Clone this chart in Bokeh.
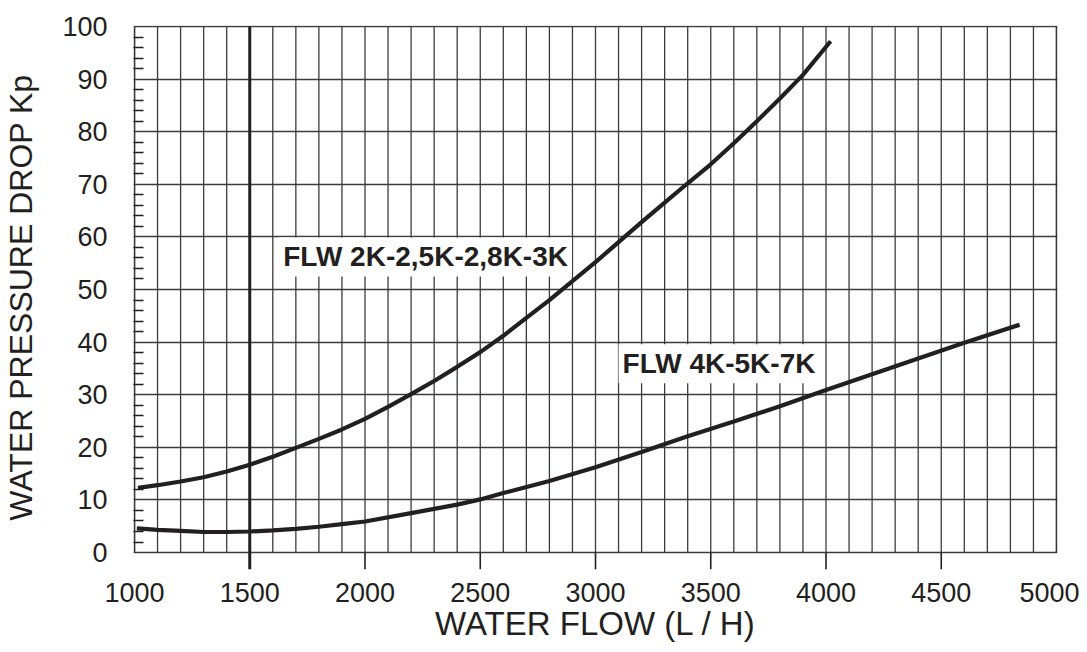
from bokeh.plotting import figure
from bokeh.models import LinearAxis, FixedTicker, Label, Range1d
from bokeh.embed import file_html
from bokeh.resources import INLINE

# ---------------- data ----------------
flow_a = [1015, 1100, 1200, 1300, 1400, 1500, 1600, 1700, 1800, 1900, 2000,
          2100, 2200, 2300, 2400, 2500, 2600, 2700, 2800, 2900, 3000, 3100,
          3200, 3300, 3400, 3500, 3600, 3700, 3800, 3900, 4020]
drop_a = [12.3, 12.8, 13.5, 14.3, 15.4, 16.7, 18.2, 19.9, 21.6, 23.4, 25.4,
          27.7, 30.1, 32.6, 35.3, 38.1, 41.2, 44.6, 48.0, 51.6, 55.2, 59.0,
          62.8, 66.5, 70.2, 73.8, 77.8, 82.0, 86.3, 90.8, 97.2]

flow_b = [1010, 1100, 1200, 1300, 1400, 1500, 1600, 1700, 1800, 1900, 2000,
          2200, 2400, 2500, 2600, 2800, 3000, 3200, 3400, 3600, 3800, 4000,
          4200, 4400, 4600, 4840]
drop_b = [4.6, 4.3, 4.1, 3.9, 3.9, 4.0, 4.2, 4.5, 4.9, 5.4, 5.9,
          7.5, 9.1, 10.1, 11.3, 13.6, 16.2, 19.1, 22.1, 24.9, 27.8, 30.9,
          33.9, 36.9, 39.9, 43.3]

label_a = "FLW 2K-2,5K-2,8K-3K"
label_b = "FLW 4K-5K-7K"

x_ticks = [1000, 1500, 2000, 2500, 3000, 3500, 4000, 4500, 5000]
x_marks = [2000, 2500, 3000, 3500, 4000, 4500]
heavy_x = 1500
y_ticks = [0, 10, 20, 30, 40, 50, 60, 70, 80, 90, 100]
y_minor = [v for v in range(2, 100, 2) if v % 10]
x_grid = list(range(1100, 5000, 100))
x_min, x_max, y_min, y_max = 1000, 5000, 0, 100

x_title = "WATER FLOW (L / H)"
y_title = "WATER PRESSURE DROP Kp"

# ---------------- styles / geometry ----------------
INK = "#231f20"
GRID = "#3c3c3c"
FONT = "Liberation Sans"
W, H = 1079, 644
PLOT_L, PLOT_T, PLOT_R, PLOT_B = 131, 26, 1056, 553   # chart box in px
TICK_PX = 17
PAD = 1

ux = (x_max - x_min) / (PLOT_R - PLOT_L)   # units per px
uy = (y_max - y_min) / (PLOT_B - PLOT_T)

p = figure(width=W, height=H, output_backend="svg", toolbar_location=None,
           x_range=Range1d(x_min - PAD * ux, x_max + PAD * ux),
           y_range=Range1d(y_min - TICK_PX * uy, y_max + PAD * uy),
           x_axis_location=None,
           min_border_left=PLOT_L - PAD, min_border_top=PLOT_T - PAD,
           min_border_right=W - PLOT_R - PAD,
           min_border_bottom=H - PLOT_B - TICK_PX,
           background_fill_color="white", border_fill_color="white")
p.outline_line_color = None
p.xgrid.visible = False

# horizontal grid (incl. bottom and top edges of the chart box)
p.ygrid[0].ticker = FixedTicker(ticks=y_ticks)
p.ygrid[0].grid_line_color = GRID
p.ygrid[0].grid_line_width = 1.4

# vertical grid lines and chart box sides
p.segment(x0=x_grid, y0=[y_min] * len(x_grid), x1=x_grid,
          y1=[y_max] * len(x_grid), line_color=GRID, line_width=1.3)
p.segment(x0=[x_min, x_max], y0=[y_min, y_min], x1=[x_min, x_max],
          y1=[y_max, y_max], line_color="#333333", line_width=1.7)

# x tick marks hanging below the chart box, drawn as thin bars
tick_bottom = y_min - TICK_PX * uy
p.vbar(x=x_marks, width=1.6 * ux, top=y_min, bottom=tick_bottom,
       fill_color=INK, line_color=None)
# heavy 1500 line
p.vbar(x=[heavy_x], width=3 * ux, top=y_max, bottom=tick_bottom,
       fill_color=INK, line_color=None)

# x axis (labels only)
xl = LinearAxis(ticker=FixedTicker(ticks=x_ticks))
xl.major_tick_line_color = None
xl.minor_tick_line_color = None
xl.axis_line_color = None
xl.major_tick_out = 0
xl.major_tick_in = 0
xl.major_label_standoff = 13
xl.major_label_text_font = FONT
xl.major_label_text_font_size = "27px"
xl.major_label_text_color = INK
xl.axis_label = x_title
xl.axis_label_text_font = FONT
xl.axis_label_text_font_size = "33px"
xl.axis_label_text_font_style = "normal"
xl.axis_label_text_color = INK
xl.axis_label_standoff = 0
p.add_layout(xl, "below")

# y axis
ya = p.yaxis[0]
ya.ticker = FixedTicker(ticks=y_ticks, minor_ticks=y_minor)
ya.major_tick_out = 0
ya.major_tick_in = 0
ya.minor_tick_out = 0
ya.minor_tick_in = 10
ya.minor_tick_line_color = INK
ya.minor_tick_line_width = 1.3
ya.axis_line_color = None
ya.major_label_standoff = 26
ya.major_label_text_font = FONT
ya.major_label_text_font_size = "27px"
ya.major_label_text_color = INK
ya.axis_label = y_title
ya.axis_label_text_font = FONT
ya.axis_label_text_font_size = "32px"
ya.axis_label_text_font_style = "normal"
ya.axis_label_text_color = INK
ya.axis_label_standoff = 20

# curves
p.line(flow_a, drop_a, line_color=INK, line_width=4.2)
p.line(flow_b, drop_b, line_color=INK, line_width=4.2)

# curve labels
for txt, x, y in [(label_a, 1628, 56.2), (label_b, 3100, 35.9)]:
    p.add_layout(Label(x=x, y=y, text=txt, text_font=FONT,
                       text_font_size="28px", text_font_style="bold",
                       text_color=INK, text_baseline="middle",
                       text_align="left", background_fill_color="white",
                       padding=4))

open("out.html", "w").write(file_html(p, INLINE))
